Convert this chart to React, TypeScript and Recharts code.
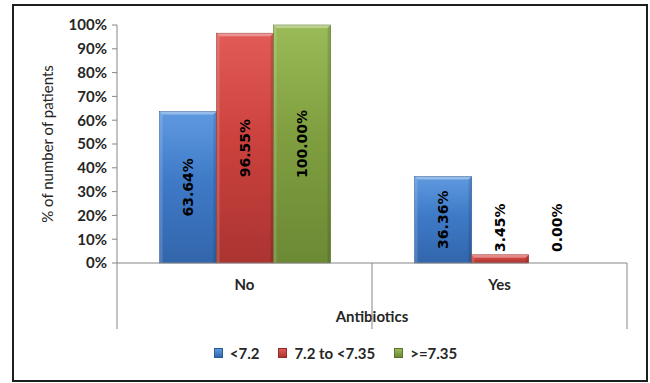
import React from 'react'
import { BarChart, Bar, XAxis, YAxis, Legend, LabelList, Label } from 'recharts'

const categories = ['No', 'Yes']
const below72 = [63.64, 36.36]
const from72to735 = [96.55, 3.45]
const atLeast735 = [100.0, 0.0]
const seriesNames = ['<7.2', '7.2 to <7.35', '>=7.35']
const yTicks = [0, 10, 20, 30, 40, 50, 60, 70, 80, 90, 100]

const data = categories.map((category, i) => ({
  category,
  low: below72[i],
  mid: from72to735[i],
  high: atLeast735[i],
}))

const W = 650
const H = 383
const margin = { top: 25, right: 23, bottom: 6, left: 30 }
const yAxisWidth = 87
const xAxisHeight = 66
const plotW = W - margin.left - margin.right - yAxisWidth
const band = plotW / categories.length

const axisColor = '#868686'
const textColor = '#262626'
const font = 'Lato, "Open Sans", sans-serif'

const palette = [
  { id: 'gBlue', top: '#5f9ae0', mid: '#3f7ac8', bottom: '#3266ab', edge: '#2c5a96' },
  { id: 'gRed', top: '#e25b57', mid: '#cc423e', bottom: '#ab3431', edge: '#8f2b29' },
  { id: 'gGreen', top: '#9abb57', mid: '#809f40', bottom: '#6c8934', edge: '#5b742c' },
]

const bevelShape = (c: typeof palette[number]) => (props: any) => {
  const { x, y, width, height } = props
  if (!height || height <= 0) return <g />
  const b = Math.min(3, height / 2)
  return (
    <g>
      <rect x={x} y={y} width={width} height={height} fill={`url(#${c.id})`} stroke={c.edge} strokeWidth={0.6} />
      <polygon
        points={`${x},${y} ${x + width},${y} ${x + width - b},${y + b} ${x + b},${y + b}`}
        fill="#ffffff"
        fillOpacity={0.35}
      />
      <polygon
        points={`${x + width},${y} ${x + width},${y + height} ${x + width - b},${y + height} ${x + width - b},${y + b}`}
        fill="#000000"
        fillOpacity={0.12}
      />
      <polygon
        points={`${x},${y} ${x + b},${y + b} ${x + b},${y + height} ${x},${y + height}`}
        fill="#ffffff"
        fillOpacity={0.15}
      />
    </g>
  )
}

const renderValue = (props: any) => {
  const { x, y, width, height, value } = props
  const cx = x + width / 2
  const text = `${Number(value).toFixed(2)}%`
  const style = { fontFamily: '"DejaVu Sans", sans-serif', fontWeight: 700, fontSize: 14, fill: '#000' }
  if (height > 80) {
    const cy = y + height / 2
    return (
      <text x={cx} y={cy} transform={`rotate(-90 ${cx} ${cy})`} textAnchor="middle" dominantBaseline="central" style={style}>
        {text}
      </text>
    )
  }
  const ay = y + height - 11
  return (
    <text x={cx} y={ay} transform={`rotate(-90 ${cx} ${ay})`} textAnchor="start" dominantBaseline="central" style={style}>
      {text}
    </text>
  )
}

const CategoryTick = (props: any) => {
  const { x, y, payload, index } = props
  const left = x - band / 2
  const right = x + band / 2
  return (
    <g>
      <line x1={left} y1={y} x2={left} y2={y + xAxisHeight} stroke={axisColor} strokeWidth={1} />
      {index === categories.length - 1 && (
        <line x1={right} y1={y} x2={right} y2={y + xAxisHeight} stroke={axisColor} strokeWidth={1} />
      )}
      <text x={x} y={y + 21} textAnchor="middle" dominantBaseline="central"
        style={{ fontFamily: font, fontWeight: 700, fontSize: 15, fill: textColor }}>
        {payload.value}
      </text>
    </g>
  )
}

const LegendContent = () => (
  <div style={{ height: 48, display: 'flex', alignItems: 'center', justifyContent: 'center', paddingLeft: 14, fontFamily: font, fontWeight: 700, fontSize: 15, color: textColor }}>
    {seriesNames.map((name, i) => (
      <div key={name} style={{ display: 'flex', alignItems: 'center', marginRight: i < seriesNames.length - 1 ? 19 : 0 }}>
        <span style={{ width: 7, height: 8, marginRight: 7, display: 'inline-block', background: `linear-gradient(${palette[i].top}, ${palette[i].bottom})`, border: `1px solid ${palette[i].edge}` }} />
        {name}
      </div>
    ))}
  </div>
)

export default function App() {
  return (
    <div style={{ position: 'absolute', left: 0, top: 0, width: W, height: H, background: '#fff' }}>
      <div style={{ position: 'absolute', left: 12, top: 4, width: 636, height: 378, border: '2px solid #1e1e1e', boxSizing: 'border-box' }} />
      <div style={{ position: 'absolute', left: 0, top: 0 }}>
        <BarChart width={W} height={H} data={data} margin={margin} barCategoryGap="16.7%" barGap={0}>
          <defs>
            {palette.map((c) => (
              <linearGradient key={c.id} id={c.id} x1="0" y1="0" x2="0" y2="1">
                <stop offset="0%" stopColor={c.top} />
                <stop offset="45%" stopColor={c.mid} />
                <stop offset="100%" stopColor={c.bottom} />
              </linearGradient>
            ))}
          </defs>
          <XAxis
            dataKey="category"
            height={xAxisHeight}
            tickLine={false}
            tickSize={0}
            tickMargin={0}
            axisLine={{ stroke: axisColor }}
            tick={<CategoryTick />}
            interval={0}
          >
            <Label
              content={(p: any) => {
                const vb = p.viewBox
                return (
                  <text x={vb.x + vb.width / 2} y={vb.y + 53} textAnchor="middle" dominantBaseline="central"
                    style={{ fontFamily: font, fontWeight: 700, fontSize: 15, fill: textColor }}>
                    Antibiotics
                  </text>
                )
              }}
            />
          </XAxis>
          <YAxis
            width={yAxisWidth}
            domain={[0, 100]}
            ticks={yTicks}
            interval={0}
            tickFormatter={(v) => `${v}%`}
            axisLine={{ stroke: axisColor }}
            tickLine={{ stroke: axisColor }}
            tickSize={5}
            tickMargin={5}
            tick={{ fontFamily: font, fontWeight: 700, fontSize: 15, fill: textColor }}
          >
            <Label
              content={(p: any) => {
                const vb = p.viewBox
                const lx = vb.x + 17
                const ly = vb.y + vb.height / 2
                return (
                  <text x={lx} y={ly} transform={`rotate(-90 ${lx} ${ly})`} textAnchor="middle" dominantBaseline="central"
                    style={{ fontFamily: font, fontSize: 15, fill: textColor }}>
                    % of number of patients
                  </text>
                )
              }}
            />
          </YAxis>
          <Legend verticalAlign="bottom" content={<LegendContent />} />
          <Bar dataKey="low" name={seriesNames[0]} shape={bevelShape(palette[0])} isAnimationActive={false}>
            <LabelList dataKey="low" content={renderValue} />
          </Bar>
          <Bar dataKey="mid" name={seriesNames[1]} shape={bevelShape(palette[1])} isAnimationActive={false}>
            <LabelList dataKey="mid" content={renderValue} />
          </Bar>
          <Bar dataKey="high" name={seriesNames[2]} shape={bevelShape(palette[2])} isAnimationActive={false}>
            <LabelList dataKey="high" content={renderValue} />
          </Bar>
        </BarChart>
      </div>
    </div>
  )
}
